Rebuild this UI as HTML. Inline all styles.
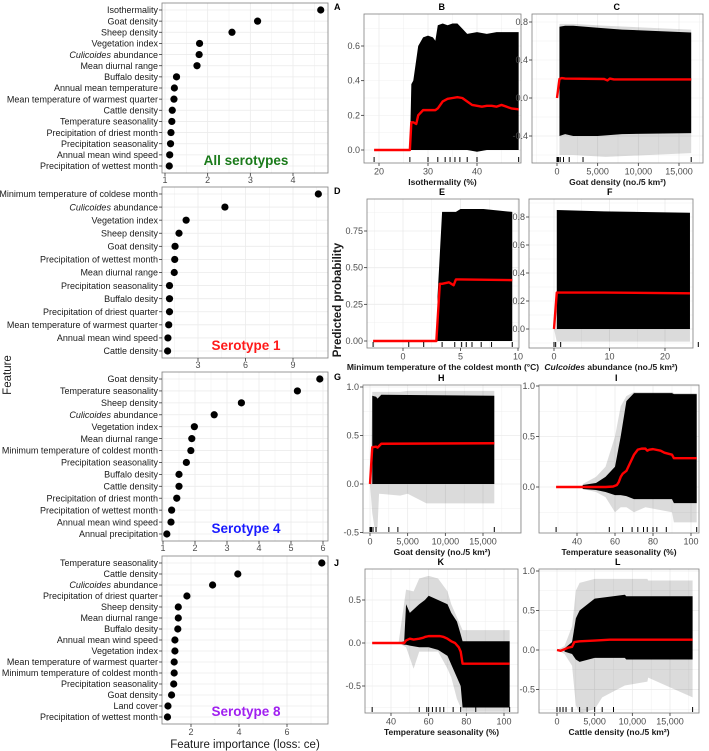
<!DOCTYPE html>
<html><head><meta charset="utf-8"><style>
body{margin:0;background:#fff}
svg{display:block;font-family:"Liberation Sans",Arial,sans-serif}
</style></head><body>
<svg id="chart" width="709" height="751" viewBox="0 0 709 751" xmlns="http://www.w3.org/2000/svg"></svg>
<script>
// ---------- Feature importance data ----------
const impLabels1 = ["Isothermality","Goat density","Sheep density","Vegetation index","*Culicoides abundance","Mean diurnal range","Buffalo desity","Annual mean temperature","Mean  temperature of warmest quarter","Cattle density","Temperature seasonality","Precipitation of driest month","Precipitation seasonality","Annual mean wind speed","Precipitation of wettest month"];
const impValues1 = [4.65,3.17,2.57,1.81,1.80,1.75,1.27,1.22,1.21,1.17,1.16,1.14,1.13,1.11,1.10];
const impLabels2 = ["Minimum temperature of coldese month","*Culicoides abundance","Vegetation index","Sheep density","Goat density","Precipitation of wettest month","Mean diurnal range","Precipitation seasonality","Buffalo desity","Precipitation of driest quarter","Mean temperature of warmest quarter","Annual mean wind speed","Cattle density"];
const impValues2 = [10.6,4.7,2.25,1.8,1.55,1.53,1.5,1.2,1.2,1.2,1.15,1.1,1.08];
const impLabels3 = ["Goat density","Temperature seasonality","Sheep density","*Culicoides abundance","Vegetation index","Mean diurnal range","Minimum temperature of coldest month","Precipitation seasonality","Buffalo desity","Cattle density","Precipitation of driest month","Precipitation of wettest month","Annual mean wind speed","Annual precipitation"];
const impValues3 = [5.9,5.2,3.45,2.6,1.98,1.9,1.87,1.73,1.5,1.5,1.43,1.27,1.25,1.12];
const impLabels4 = ["Temperature seasonality","Cattle density","*Culicoides abundance","Precipitation of driest quarter","Sheep density","Mean diurnal range","Buffalo desity","Annual mean wind speed","Vegetation index","Mean temperature of warmest quarter","Minimum temperature of coldest month","Precipitation seasonality","Goat density","Land cover","Precipitation of wettest month"];
const impValues4 = [7.45,3.95,2.9,1.83,1.47,1.47,1.45,1.33,1.33,1.3,1.3,1.28,1.19,1.04,1.02];
const impTicks1 = [1,2,3,4];
const impTicks2 = [3,6,9];
const impTicks3 = [1,2,3,4,5,6];
const impTicks4 = [2,4,6];

// ---------- ICE / PDP data ----------
const pdpX_B = [19,26.3,26.6,27,27.6,28,29,30,31,31.5,32,33,34,35,36,37,38,39,40,41,42,43,44,45,46,47,48.5];
const pdpY_B = [0,0,0.16,0.16,0.15,0.2,0.23,0.23,0.23,0.23,0.24,0.28,0.295,0.3,0.305,0.3,0.28,0.26,0.255,0.25,0.255,0.255,0.25,0.26,0.25,0.24,0.235];
const envX_B = [26.3,26.6,27,28,29,30,31,31.5,32,33,34,35,36,37,38,40,42,44,46,48.5];
const envTop_B = [0,0.38,0.4,0.6,0.65,0.66,0.65,0.63,0.72,0.73,0.72,0.73,0.73,0.7,0.67,0.68,0.67,0.68,0.68,0.68];
const envBot_B = [0,0,0,0,0,0,0,0,0,0,0,0,0,0,0,-0.01,0,0,0,0];
const rug_B = [19,26.3,30,32,33.5,34.5,35.5,36.5,38,40,48.5];
const xTicks_B = [20,30,40];
const yTicks_B = [0,0.2,0.4,0.6];

const pdpX_C = [0,300,600,1000,5800,6200,6500,7000,16500];
const pdpY_C = [0,0.2,0.21,0.205,0.2,0.185,0.205,0.195,0.195];
const envX_C = [300,1000,2000,5000,8000,16500];
const envTop_C = [0.75,0.76,0.76,0.74,0.72,0.69];
const envBot_C = [-0.4,-0.38,-0.4,-0.4,-0.38,-0.37];
const outX_C = [300,2000,6000,16500];
const outTop_C = [0.78,0.78,0.76,0.72];
const outBot_C = [-0.6,-0.6,-0.62,-0.58];
const rug_C = [0,100,200,400,800,1500,3200,16500];
const xTicks_C = [0,5000,10000,15000];
const yTicks_C = [-0.4,0,0.4,0.8];

const pdpX_E = [-2.6,2.9,3.2,3.4,4.0,4.4,4.6,5.0,9.5];
const pdpY_E = [0,0,0.39,0.39,0.4,0.38,0.42,0.42,0.415];
const envX_E = [3.0,3.4,4.6,5,7,9.5];
const envTop_E = [0.3,0.88,0.88,0.9,0.9,0.88];
const envBot_E = [0,0,0,0,0,0];
const rug_E = [-2.6,0.5,1.8,3.4,4.5,5.1,5.5,6,6.8,7.7,9.5];
const xTicks_E = [0,5,10];
const yTicks_E = [0,0.25,0.5,0.75];

const pdpX_F = [0,0.5,9,24.5];
const pdpY_F = [0,0.26,0.26,0.255];
const envX_F = [0.5,9,24.5];
const envTop_F = [0.85,0.84,0.83];
const envBot_F = [0,0,0];
const outX_F = [0,0.5,24.5];
const outTop_F = [0,0,0];
const outBot_F = [0,-0.09,-0.09];
const rug_F = [0,0.3,1.2,26];
const xTicks_F = [0,10,20];
const yTicks_F = [0,0.2,0.4,0.6,0.8];

const pdpX_H = [0,300,800,1000,1500,16500];
const pdpY_H = [0,0.38,0.385,0.375,0.415,0.42];
const envX_H = [300,800,1000,1500,16500];
const envTop_H = [0.91,0.9,0.88,0.92,0.91];
const envBot_H = [0,0,0,0,0];
const outX_H = [0,300,600,1000,1200,4000,5000,7500,16500];
const outTop_H = [0,0.95,0.95,0.95,0.95,0.95,0.96,0.96,0.96];
const outBot_H = [0,-0.3,-0.45,-0.45,-0.1,-0.12,-0.1,-0.2,-0.2];
const rug_H = [0,100,200,400,800,2500,3700,16500];
const xTicks_H = [0,5000,10000,15000];
const yTicks_H = [-0.5,0,0.5,1];

const pdpX_I = [29,43,55,59,61,62,63,64,66,68,70,72,74,76,77,78,80,84,86,88,90,91,103];
const pdpY_I = [0,0,0,0.005,0.02,0.05,0.1,0.13,0.16,0.24,0.32,0.37,0.38,0.38,0.36,0.37,0.375,0.36,0.34,0.33,0.32,0.285,0.285];
const envX_I = [43,50,55,60,63,66,70,90,91,103];
const envTop_I = [0.02,0.04,0.1,0.2,0.5,0.85,0.93,0.93,0.92,0.92];
const envBot_I = [-0.02,-0.03,-0.05,-0.08,-0.08,-0.09,-0.12,-0.12,-0.16,-0.16];
const outX_I = [43,50,55,60,63,66,70,76,90,91,103];
const outTop_I = [0.03,0.1,0.2,0.5,0.8,0.9,0.94,0.94,0.94,0.93,0.93];
const outBot_I = [-0.02,-0.05,-0.1,-0.25,-0.2,-0.2,-0.25,-0.2,-0.25,-0.35,-0.35];
const rug_I = [29,57,64,69,72,75,77,80,82,87,103];
const xTicks_I = [40,60,80,100];
const yTicks_I = [0,0.5,1];

const pdpX_K = [30,44,47,48,50,52,55,57,58,60,62,64,66,68,70,72,74,76,77,78,103];
const pdpY_K = [0,0,0,0.03,0.05,0.04,0.05,0.06,0.07,0.08,0.08,0.08,0.08,0.07,0.05,0.02,0,-0.05,-0.1,-0.24,-0.24];
const envX_K = [44,47,48,50,55,58,60,65,70,72,75,77,78,103];
const envTop_K = [0,0.02,0.45,0.35,0.45,0.5,0.55,0.5,0.45,0.35,0.25,0.1,0.02,0.02];
const envBot_K = [0,-0.02,-0.02,-0.03,-0.05,-0.05,-0.05,-0.08,-0.15,-0.25,-0.4,-0.5,-0.75,-0.75];
const outX_K = [44,48,52,55,60,65,70,72,75,77,78,103];
const outTop_K = [0,0.62,0.6,0.75,0.78,0.75,0.6,0.45,0.3,0.2,0.15,0.15];
const outBot_K = [0,-0.05,-0.3,-0.1,-0.1,-0.1,-0.3,-0.4,-0.65,-0.75,-0.8,-0.8];
const rug_K = [30,55,59,60,62,64,66,68,73,77,85,103];
const xTicks_K = [40,60,80,100];
const yTicks_K = [-0.5,0,0.5];

const pdpX_L = [0,500,1000,1500,2000,2300,3000,5000,7000,18000];
const pdpY_L = [0,-0.01,0.01,0.03,0.04,0.1,0.11,0.12,0.13,0.13];
const envX_L = [1000,2000,2500,3000,5000,9000,9200,18000];
const envTop_L = [0.02,0.1,0.4,0.5,0.65,0.7,0.68,0.68];
const envBot_L = [-0.02,-0.05,-0.12,-0.15,-0.1,-0.1,-0.12,-0.12];
const outX_L = [0,1000,2000,2500,3000,5000,6000,9000,12000,12100,18000];
const outTop_L = [0,0.05,0.3,0.75,0.85,0.9,0.9,0.9,0.9,0.88,0.88];
const outBot_L = [0,-0.05,-0.2,-0.7,-0.8,-0.75,-0.6,-0.45,-0.4,-0.35,-0.6];
const rug_L = [0,400,800,1200,2000,3000,4000,5000,6000,7500,18000];
const xTicks_L = [0,5000,10000,15000];
const yTicks_L = [-0.5,0,0.5,1];

// ---------- helpers ----------
const NS = "http://www.w3.org/2000/svg";
const svg = document.getElementById('chart');
function mk(tag, attrs, parent){
  const e = document.createElementNS(NS, tag);
  for (const k in attrs) e.setAttribute(k, attrs[k]);
  (parent || svg).appendChild(e);
  return e;
}
function lin(d0,p0,d1,p1){ return v => p0 + (v-d0)*(p1-p0)/(d1-d0); }
function fmt(v){ if (Math.abs(v) >= 1000) return v.toLocaleString('en-US'); return String(v); }
function addText(parent, x, y, str, opts){
  const t = mk('text', Object.assign({x:x, y:y}, opts), parent);
  if (str.startsWith('*')) {
    const s = str.slice(1); const sp = s.indexOf(' ');
    const a = document.createElementNS(NS,'tspan'); a.setAttribute('font-style','italic'); a.textContent = s.slice(0,sp);
    t.appendChild(a); t.appendChild(document.createTextNode(s.slice(sp)));
  } else t.textContent = str;
  return t;
}

// ---------- Importance panels ----------
function impPanel(name, labels, values, ticks, box, xs, tickY, tag, tagColor, tagY){
  const g = mk('g', {});
  
  
  mk('rect', {x:box[0], y:box[1], width:box[2]-box[0], height:box[3]-box[1], fill:'#fff'}, g);
  const step = ticks[1]-ticks[0];
  for (let v = ticks[0]-step*3; v < ticks[ticks.length-1]+step*3; v += step/2){
    const px = xs(v);
    if (px <= box[0] || px >= box[2]) continue;
    mk('line', {x1:px, x2:px, y1:box[1], y2:box[3], stroke:'#ebebeb', 'stroke-width': (Math.abs(((v-ticks[0])/step)%1) < 1e-6) ? 0.8 : 0.4}, g);
  }
  const n = labels.length;
  const y0 = box[1]+7, y1 = box[3]-7;
  const ys = i => y0 + i*(y1-y0)/(n-1);
  for (let i=0;i<n;i++){
    mk('line', {x1:box[0], x2:box[2], y1:ys(i), y2:ys(i), stroke:'#ebebeb', 'stroke-width':0.8}, g);
  }
  mk('rect', {x:box[0], y:box[1], width:box[2]-box[0], height:box[3]-box[1], fill:'none', stroke:'#7f7f7f', 'stroke-width':0.8}, g);
  for (let i=0;i<n;i++){
    mk('line', {x1:box[0]-3, x2:box[0], y1:ys(i), y2:ys(i), stroke:'#333', 'stroke-width':0.8}, g);
    const lt = addText(g, box[0]-4, ys(i)+3.2, labels[i], {'font-size':9, fill:'#1a1a1a', 'text-anchor':'end'});
    
    
    const c = mk('circle', {cx:xs(values[i]), cy:ys(i), r:3.6, fill:'#000'}, g);
    
    
  }
  ticks.forEach(v => {
    mk('line', {x1:xs(v), x2:xs(v), y1:box[3], y2:box[3]+3, stroke:'#333', 'stroke-width':0.8}, g);
    const t = mk('text', {x:xs(v), y:tickY, 'font-size':9, fill:'#4d4d4d', 'text-anchor':'middle'}, g);
    t.textContent = fmt(v);
    
    
  });
  const tg = mk('text', {x:246, y:tagY, 'font-size':13.5, 'font-weight':'bold', fill:tagColor, 'text-anchor':'middle'}, g);
  tg.textContent = tag;
  
  
}
impPanel('importance-all-serotypes', impLabels1, impValues1, impTicks1, [162,3,328,173], lin(1,165,4,293), 183, 'All serotypes', '#1a7a1a', 165);
impPanel('importance-serotype-1', impLabels2, impValues2, impTicks2, [162,187,328,358], lin(3,198,9,293), 368, 'Serotype 1', '#ff1a1a', 350);
impPanel('importance-serotype-4', impLabels3, impValues3, impTicks3, [162,372,328,541], lin(1,163,6,323), 551, 'Serotype 4', '#1a1aff', 533);
impPanel('importance-serotype-8', impLabels4, impValues4, impTicks4, [162,556,328,724], lin(2,191,6,287), 735, 'Serotype 8', '#a020f0', 716);

let t;
t = mk('text', {x:245, y:748, 'font-size':11.5, fill:'#1a1a1a', 'text-anchor':'middle'});
t.textContent = 'Feature importance (loss: ce)';


t = mk('text', {x:0, y:0, 'font-size':11.5, fill:'#1a1a1a', 'text-anchor':'middle', transform:'translate(11,375) rotate(-90)'});
t.textContent = 'Feature';


t = mk('text', {x:0, y:0, 'font-size':11.5, 'font-weight':'bold', fill:'#1a1a1a', 'text-anchor':'middle', transform:'translate(341,300) rotate(-90)'});
t.textContent = 'Predicted probability';



// ---------- ICE panels ----------
function poly(g, xs, ys, X, T, B, fill, op){
  let pts = X.map((v,i)=> xs(v)+','+ys(T[i]));
  for (let i=X.length-1;i>=0;i--) pts.push(xs(X[i])+','+ys(B[i]));
  return mk('polygon', {points:pts.join(' '), fill:fill, 'fill-opacity':op}, g);
}
function icePanel(p){
  const g = mk('g', {});
  
  
  const [x0,y0,x1,y1] = p.box;
  mk('rect', {x:x0, y:y0, width:x1-x0, height:y1-y0, fill:'#fff'}, g);
  const gridLines = (ticks, sc, vert) => {
    const st = ticks[1]-ticks[0];
    for (let v = ticks[0]-st*4; v < ticks[ticks.length-1]+st*4; v += st/2){
      const px = sc(v); const major = Math.abs(((v-ticks[0])/st)%1) < 1e-6;
      if (vert) { if (px<=x0||px>=x1) continue; mk('line',{x1:px,x2:px,y1:y0,y2:y1,stroke:'#ebebeb','stroke-width':major?0.8:0.4},g); }
      else { if (px<=y0||px>=y1) continue; mk('line',{x1:x0,x2:x1,y1:px,y2:px,stroke:'#ebebeb','stroke-width':major?0.8:0.4},g); }
    }
  };
  gridLines(p.xt, p.xs, true);
  gridLines(p.yt, p.ys, false);
  if (p.oX) {
    const o = poly(g, p.xs, p.ys, p.oX, p.oT, p.oB, '#000', 0.14);
    
    
  }
  const c = poly(g, p.xs, p.ys, p.eX, p.eT, p.eB, '#000', 1);
  
  
  const pl = mk('polyline', {points:p.pX.map((v,i)=>p.xs(v)+','+p.ys(p.pY[i])).join(' '), fill:'none', stroke:'#ff0000', 'stroke-width':2.4, 'stroke-linejoin':'round'}, g);
  
  
  p.rug.forEach(v => {
    const r = mk('line', {x1:p.xs(v), x2:p.xs(v), y1:y1-1, y2:y1-6, stroke:'#000', 'stroke-width':1}, g);
    
    
  });
  mk('rect', {x:x0, y:y0, width:x1-x0, height:y1-y0, fill:'none', stroke:'#7f7f7f', 'stroke-width':0.8}, g);
  p.xt.forEach(v => {
    mk('line', {x1:p.xs(v), x2:p.xs(v), y1:y1, y2:y1+3, stroke:'#333', 'stroke-width':0.8}, g);
    const tt = mk('text', {x:p.xs(v), y:y1+11.5, 'font-size':9, fill:'#4d4d4d', 'text-anchor':'middle'}, g);
    tt.textContent = fmt(v);
    
    
  });
  p.yt.forEach(v => {
    mk('line', {x1:x0-3, x2:x0, y1:p.ys(v), y2:p.ys(v), stroke:'#333', 'stroke-width':0.8}, g);
    const tt = mk('text', {x:x0-4, y:p.ys(v)+3, 'font-size':9, fill:'#4d4d4d', 'text-anchor':'end'}, g);
    tt.textContent = p.yfmt ? v.toFixed(p.yfmt) : v.toFixed(1);
    
    
  });
  const ti = addText(g, (x0+x1)/2, y1+22, p.title, {'font-size':8.5, 'font-weight':'bold', fill:'#1a1a1a', 'text-anchor':'middle'});
  
  
  const le = mk('text', {x:(x0+x1)/2 - 4, y:y0-4, 'font-size':9, 'font-weight':'bold', fill:'#000'}, g);
  le.textContent = p.letter;
  
  
}
icePanel({name:'panel-b', letter:'B', box:[364,14,521,163], xs:lin(20,379,40,477), ys:lin(0,150,0.6,46), xt:xTicks_B, yt:yTicks_B, pX:pdpX_B, pY:pdpY_B, eX:envX_B, eT:envTop_B, eB:envBot_B, rug:rug_B, title:'Isothermality (%)'});
icePanel({name:'panel-c', letter:'C', box:[532,14,703,163], xs:lin(0,557,15000,679), ys:lin(0,98,0.8,22), xt:xTicks_C, yt:yTicks_C, pX:pdpX_C, pY:pdpY_C, eX:envX_C, eT:envTop_C, eB:envBot_C, oX:outX_C, oT:outTop_C, oB:outBot_C, rug:rug_C, title:'Goat density (no./5 km²)'});
icePanel({name:'panel-e', letter:'E', box:[367,199,519,348], xs:lin(0,403,10,518), ys:lin(0,341,0.75,231), xt:xTicks_E, yt:yTicks_E, yfmt:2, pX:pdpX_E, pY:pdpY_E, eX:envX_E, eT:envTop_E, eB:envBot_E, rug:rug_E, title:'Minimum temperature of the coldest month (°C)'});
icePanel({name:'panel-f', letter:'F', box:[529,199,693,348], xs:lin(0,554,20,665), ys:lin(0,329,0.8,217), xt:xTicks_F, yt:yTicks_F, pX:pdpX_F, pY:pdpY_F, eX:envX_F, eT:envTop_F, eB:envBot_F, oX:outX_F, oT:outTop_F, oB:outBot_F, rug:rug_F, title:'*Culcoides abundance (no./5 km²)'});
icePanel({name:'panel-h', letter:'H', box:[363,385,521,533], xs:lin(0,370,15000,483), ys:lin(0,484,1,387), xt:xTicks_H, yt:yTicks_H, pX:pdpX_H, pY:pdpY_H, eX:envX_H, eT:envTop_H, eB:envBot_H, oX:outX_H, oT:outTop_H, oB:outBot_H, rug:rug_H, title:'Goat density (no./5 km²)'});
icePanel({name:'panel-i', letter:'I', box:[539,385,699,533], xs:lin(40,577,100,691), ys:lin(0,487,1,386), xt:xTicks_I, yt:yTicks_I, pX:pdpX_I, pY:pdpY_I, eX:envX_I, eT:envTop_I, eB:envBot_I, oX:outX_I, oT:outTop_I, oB:outBot_I, rug:rug_I, title:'Temperature seasonality (%)'});
icePanel({name:'panel-k', letter:'K', box:[365,569,518,713], xs:lin(40,391,100,504), ys:lin(0,643,0.5,600), xt:xTicks_K, yt:yTicks_K, pX:pdpX_K, pY:pdpY_K, eX:envX_K, eT:envTop_K, eB:envBot_K, oX:outX_K, oT:outTop_K, oB:outBot_K, rug:rug_K, title:'Temperature seasonality (%)'});
icePanel({name:'panel-l', letter:'L', box:[539,569,699,713], xs:lin(0,557,15000,670), ys:lin(0,650,1,571), xt:xTicks_L, yt:yTicks_L, pX:pdpX_L, pY:pdpY_L, eX:envX_L, eT:envTop_L, eB:envBot_L, oX:outX_L, oT:outTop_L, oB:outBot_L, rug:rug_L, title:'Cattle density (no./5 km²)'});

// row letters
const rowLetters = ['A','D','G','J'];
const rowLetterY = [10,194,380,566];
rowLetters.forEach((l,i) => {
  const e = mk('text', {x:334, y:rowLetterY[i], 'font-size':9, 'font-weight':'bold', fill:'#000'});
  e.textContent = l;
  
  
});
</script>
</body></html>
